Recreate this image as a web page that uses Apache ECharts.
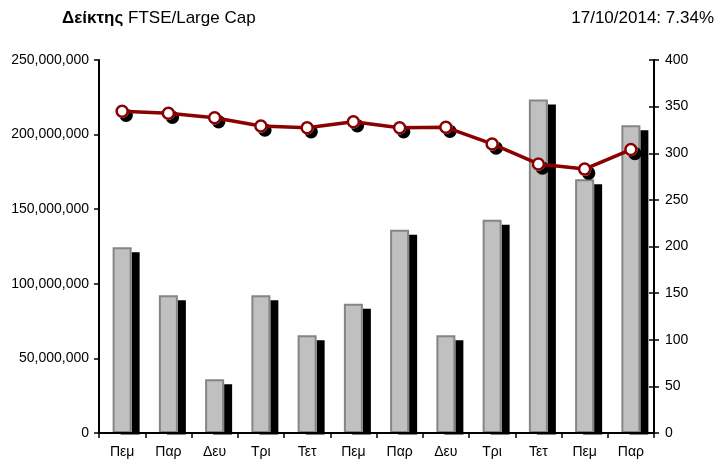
<!DOCTYPE html>
<html>
<head>
<meta charset="utf-8">
<script src="https://cdn.jsdelivr.net/npm/echarts@6/dist/echarts.min.js"></script>
<style>
html,body{margin:0;padding:0;background:#fff;}
#chart{width:717px;height:464px;}
</style>
</head>
<body>
<div id="chart"></div>
<script>
var categories = ['Πεμ','Παρ','Δευ','Τρι','Τετ','Πεμ','Παρ','Δευ','Τρι','Τετ','Πεμ','Παρ'];
var volumeValues = [124500000, 92300000, 36000000, 92300000, 65500000, 86700000, 136300000, 65500000, 143000000, 223500000, 170000000, 206200000];
var indexValues = [345, 342.8, 338, 329.2, 327.4, 333.8, 327.4, 327.8, 310, 288.5, 283, 304];
var leftTicks = {min: 0, max: 250000000, interval: 50000000};
var rightTicks = {min: 0, max: 400, interval: 50};
var titleBold = 'Δείκτης';
var titleRest = ' FTSE/Large Cap';
var dateText = '17/10/2014: 7.34%';

var sans = "'Liberation Sans', Arial, sans-serif";

var chart = echarts.init(document.getElementById('chart'));
chart.setOption({
  animation: false,
  backgroundColor: '#fff',
  title: [{
    left: 62, top: 10, padding: 0,
    text: '{b|' + titleBold + '}{n|' + titleRest + '}',
    textStyle: {
      fontWeight: 'normal',
      rich: {
        b: {fontFamily: sans, fontSize: 17, fontWeight: 'bold', color: '#000'},
        n: {fontFamily: sans, fontSize: 17, fontWeight: 'normal', color: '#000'}
      }
    }
  }, {
    right: 3, top: 10, padding: 0,
    text: dateText,
    textStyle: {fontFamily: sans, fontSize: 17, fontWeight: 'normal', color: '#000'}
  }],
  grid: {left: 99, right: 63, top: 60, bottom: 31, containLabel: false},
  xAxis: {
    type: 'category',
    data: categories,
    z: 10,
    axisLine: {lineStyle: {color: '#000', width: 2}},
    axisTick: {show: true, length: 5, lineStyle: {color: '#000', width: 1.5}},
    axisLabel: {margin: 12, fontFamily: sans, fontSize: 14, color: '#000'}
  },
  yAxis: [{
    type: 'value',
    position: 'left',
    z: 10,
    min: leftTicks.min, max: leftTicks.max, interval: leftTicks.interval,
    splitLine: {show: false},
    axisLine: {show: true, lineStyle: {color: '#000', width: 2}},
    axisTick: {show: true, length: 5, lineStyle: {color: '#000', width: 1.5}},
    axisLabel: {
      margin: 10, fontFamily: sans, fontSize: 14, color: '#000',
      formatter: function (v) { return v.toLocaleString('en-US'); }
    }
  }, {
    type: 'value',
    position: 'right',
    z: 10,
    min: rightTicks.min, max: rightTicks.max, interval: rightTicks.interval,
    splitLine: {show: false},
    axisLine: {show: true, lineStyle: {color: '#000', width: 2}},
    axisTick: {show: true, length: 5, lineStyle: {color: '#000', width: 1.5}},
    axisLabel: {margin: 11, fontFamily: sans, fontSize: 14, color: '#000'}
  }, {
    type: 'value',
    position: 'right',
    z: 10,
    min: rightTicks.min, max: rightTicks.max, interval: rightTicks.interval,
    splitLine: {show: false},
    axisLine: {show: false},
    axisTick: {show: true, inside: true, length: 5, lineStyle: {color: '#000', width: 1.5}},
    axisLabel: {show: false}
  }],
  graphic: [{
    type: 'rect',
    z: 5,
    shape: {x: 100, y: 434.5, width: 553, height: 7},
    style: {fill: '#fff'}
  }],
  series: [{
    name: 'barShadow',
    type: 'bar',
    yAxisIndex: 0,
    data: volumeValues,
    barWidth: 19,
    barGap: '-100%',
    z: 1,
    silent: true,
    itemStyle: {
      color: '#fff',
      borderColor: '#fff',
      borderWidth: 2,
      shadowColor: '#000',
      shadowBlur: 0,
      shadowOffsetX: 8,
      shadowOffsetY: 5
    }
  }, {
    name: 'volume',
    type: 'bar',
    yAxisIndex: 0,
    data: volumeValues,
    barWidth: 19,
    barGap: '-100%',
    z: 2,
    itemStyle: {
      color: '#c0c0c0',
      borderColor: '#858585',
      borderWidth: 2
    }
  }, {
    name: 'markerShadow',
    type: 'line',
    yAxisIndex: 1,
    data: indexValues,
    z: 6,
    silent: true,
    symbol: 'circle',
    symbolSize: 11,
    showAllSymbol: true,
    lineStyle: {opacity: 0, width: 0},
    itemStyle: {
      color: '#fff',
      borderColor: '#fff',
      borderWidth: 2.5,
      shadowColor: '#000',
      shadowBlur: 0,
      shadowOffsetX: 4,
      shadowOffsetY: 4
    }
  }, {
    name: 'index',
    type: 'line',
    yAxisIndex: 1,
    data: indexValues,
    z: 7,
    symbol: 'circle',
    symbolSize: 11,
    showAllSymbol: true,
    lineStyle: {color: '#8b0000', width: 3.5},
    itemStyle: {
      color: '#fff',
      borderColor: '#8b0000',
      borderWidth: 2.5
    }
  }]
});
</script>
</body>
</html>
